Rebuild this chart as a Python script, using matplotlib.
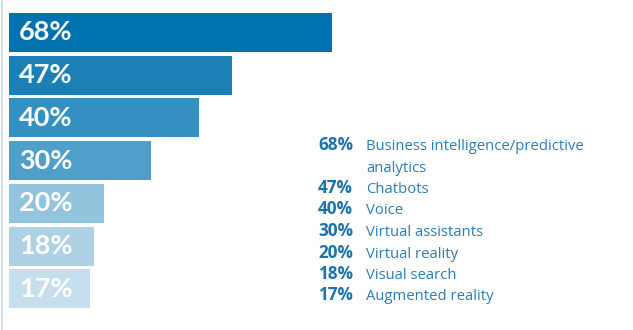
import matplotlib.pyplot as plt
from matplotlib.lines import Line2D

values = [68, 47, 40, 30, 20, 18, 17]
labels = ["Business intelligence/predictive\nanalytics", "Chatbots", "Voice",
          "Virtual assistants", "Virtual reality", "Visual search", "Augmented reality"]
colors = ["#0072b0", "#1b80b6", "#3490c0", "#4f9fca", "#93c4de", "#aed1e5", "#c5dfee"]

W, H = 633, 330
fig = plt.figure(figsize=(W / 100, H / 100), dpi=100)

# axes spans from bar start (x=9px) to right edge, full height
ax = fig.add_axes([9 / W, 0, 1 - 9 / W, 1])
px_per_pct = 4.75
pitch = 42.7
ax.set_xlim(0, (W - 9) / px_per_pct)
ax.set_ylim((H - 32.5) / pitch, -32.5 / pitch)
ax.axis("off")

y = list(range(len(values)))
ax.barh(y, values, height=39 / pitch, color=colors)

for yi, v in zip(y, values):
    ax.text(2.1, yi, f"{v}%", color="white", fontsize=19.5, fontweight="bold",
            family=["Lato", "DejaVu Sans"], ha="left", va="center")

# thin rule at the left edge
fig.add_artist(Line2D([1.8 / W, 1.8 / W], [0, 1], color="#d0dcea", lw=1.3))

# legend list on the right (baselines in pixels from top)
line_h = 21.5
base = 150
for v, lab in zip(values, labels):
    fig.text(353 / W, 1 - base / H, f"{v}%", color="#1a73ad", fontsize=12.3,
             fontweight="bold", family=["Open Sans", "DejaVu Sans"],
             ha="right", va="baseline")
    for part in lab.split("\n"):
        fig.text(366 / W, 1 - base / H, part, color="#2a7db8", fontsize=10.7,
                 family=["Open Sans", "DejaVu Sans"], ha="left", va="baseline")
        base += line_h

fig.savefig("out.png", dpi=100)
